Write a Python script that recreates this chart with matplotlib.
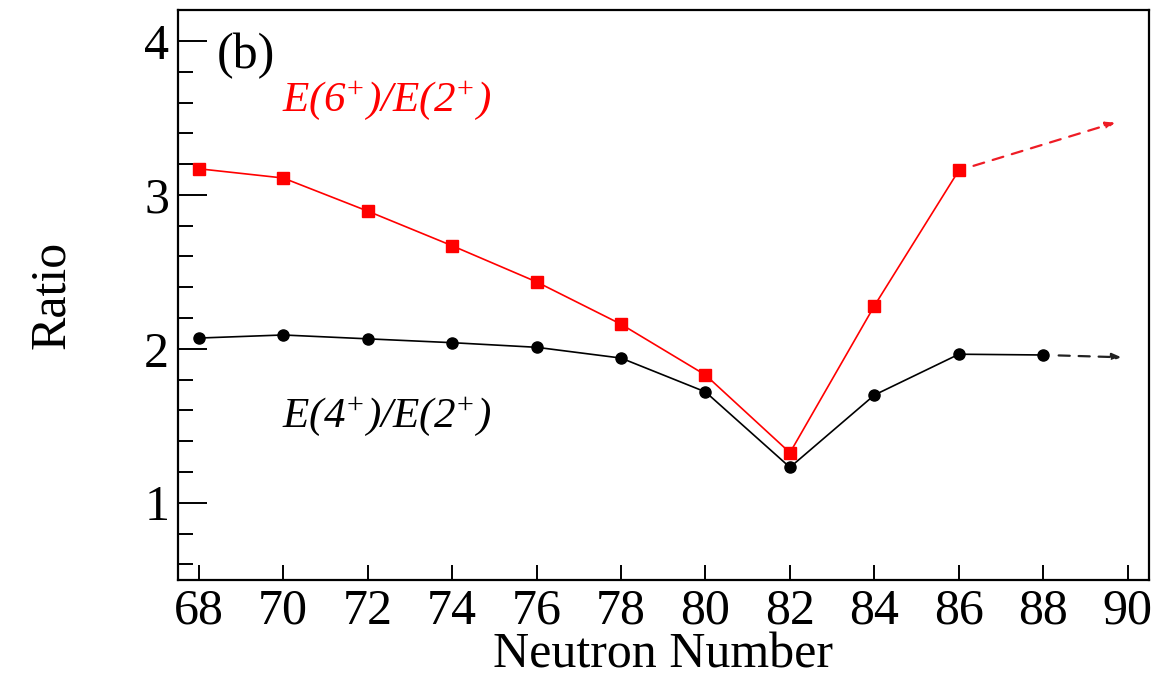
import matplotlib
matplotlib.use("Agg")
import matplotlib.pyplot as plt
from matplotlib.ticker import MultipleLocator

# Data
neutrons_r64 = [68, 70, 72, 74, 76, 78, 80, 82, 84, 86]
ratio_r64 = [3.17, 3.11, 2.895, 2.67, 2.435, 2.16, 1.83, 1.325, 2.28, 3.16]
neutrons_r42 = [68, 70, 72, 74, 76, 78, 80, 82, 84, 86, 88]
ratio_r42 = [2.07, 2.09, 2.065, 2.04, 2.01, 1.94, 1.72, 1.23, 1.70, 1.965, 1.96]
# extrapolation arrows (start, end)
arrow_r64 = [(86, 3.16), (89.7, 3.47)]
arrow_r42 = [(88, 1.96), (89.85, 1.945)]
xticks = [68, 70, 72, 74, 76, 78, 80, 82, 84, 86, 88, 90]
yticks = [1, 2, 3, 4]

plt.rcParams['font.family'] = ['Liberation Serif', 'DejaVu Serif']
# only the two ratio labels use mathtext: make everything in them italic
plt.rcParams['mathtext.fontset'] = 'custom'
plt.rcParams['mathtext.it'] = 'Liberation Serif:italic'
plt.rcParams['mathtext.rm'] = 'Liberation Serif:italic'

fig = plt.figure(figsize=(11.76, 6.82), dpi=100)
ax = fig.add_axes([0.151, 0.150, 0.826, 0.835])

ax.plot(neutrons_r64, ratio_r64, '-', color='red', lw=1.2, marker='s', ms=8.5, mec='red', mfc='red')
ax.plot(neutrons_r42, ratio_r42, '-', color='black', lw=1.2, marker='o', ms=8, mec='black', mfc='black')

# dashed extrapolations
for (p0, p1), col in [(arrow_r64, '#ee1c25'), (arrow_r42, '#222222')]:
    ax.annotate('', xy=p1, xytext=p0,
                arrowprops=dict(arrowstyle='-|>,head_length=0.55,head_width=0.22', color=col,
                                lw=1.6, linestyle=(0, (5, 4)), shrinkA=11, shrinkB=0))

ax.set_xlim(67.5, 90.5)
ax.set_ylim(0.5, 4.2)
ax.set_xticks(xticks)
ax.set_yticks(yticks)
ax.yaxis.set_minor_locator(MultipleLocator(0.2))

ax.tick_params(axis='both', which='both', direction='in', width=1.4, labelsize=36)
ax.tick_params(axis='y', which='major', length=21, pad=6)
ax.tick_params(axis='y', which='minor', length=11)
ax.tick_params(axis='x', which='major', length=11, pad=6)
ax.tick_params(top=False, right=False)
for s in ax.spines.values():
    s.set_linewidth(1.6)

ax.set_xlabel('Neutron Number', fontsize=36, labelpad=-2)
ax.set_ylabel('Ratio', fontsize=36, labelpad=50)

ax.text(0.04, 0.96, '(b)', transform=ax.transAxes, fontsize=36, va='top', ha='left')
ax.text(0.108, 0.823, r'$E(6^{+})/E(2^{+})$', transform=ax.transAxes, fontsize=31,
        color='red', ha='left', va='baseline')
ax.text(0.108, 0.269, r'$E(4^{+})/E(2^{+})$', transform=ax.transAxes, fontsize=31,
        color='black', ha='left', va='baseline')

fig.savefig('out.png', dpi=100)
